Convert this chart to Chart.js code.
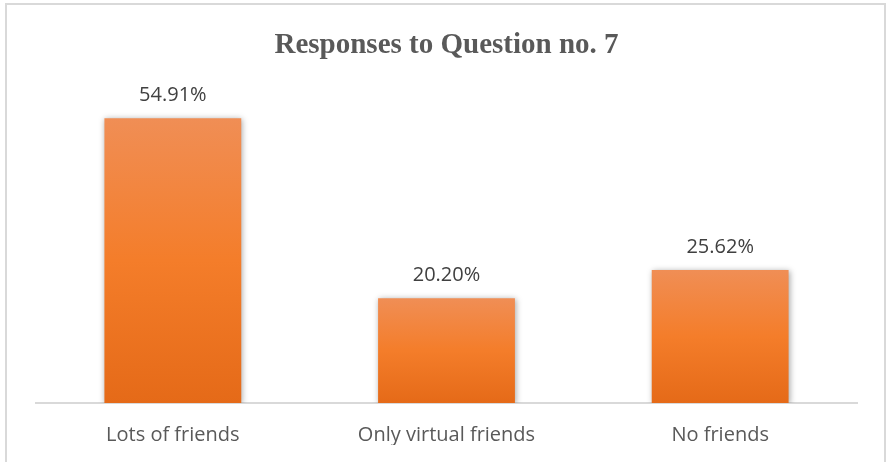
<!DOCTYPE html>
<html>
<head>
<meta charset="utf-8">
<title>Responses to Question no. 7</title>
<script src="https://cdn.jsdelivr.net/npm/chart.js@4.4.1/dist/chart.umd.min.js"></script>
<style>
  html, body { margin: 0; padding: 0; background: #fff; }
  canvas { display: block; }
</style>
</head>
<body>
<canvas id="bar-chart" width="886" height="462"></canvas>
<script>
const categories = ["Lots of friends", "Only virtual friends", "No friends"];
const percentages = [54.91, 20.20, 25.62];

// orange fill, lighter at the top of every bar, darker at the base
function barFill(ctx) {
  const chart = ctx.chart;
  const y = chart.scales.y;
  if (!chart.chartArea || !y) return "#f47e2b";
  const top = y.getPixelForValue(percentages[ctx.dataIndex]);
  const base = y.getPixelForValue(0);
  const g = chart.ctx.createLinearGradient(0, top, 0, base);
  g.addColorStop(0, "#f08e55");
  g.addColorStop(0.5, "#f47d2a");
  g.addColorStop(1, "#e56a18");
  return g;
}

// soft shadow under the bars
const barShadow = {
  id: "barShadow",
  beforeDatasetsDraw(chart) {
    const c = chart.ctx;
    c.save();
    c.shadowColor = "rgba(0,0,0,0.35)";
    c.shadowBlur = 6;
    c.shadowOffsetX = 1;
    c.shadowOffsetY = 1;
  },
  afterDatasetsDraw(chart) {
    chart.ctx.restore();
  }
};

// value text above each bar
const valueLabels = {
  id: "valueLabels",
  afterDatasetsDraw(chart) {
    const c = chart.ctx;
    const meta = chart.getDatasetMeta(0);
    c.save();
    c.font = "20px 'Open Sans'";
    c.fillStyle = "#404040";
    c.textAlign = "center";
    c.textBaseline = "middle";
    meta.data.forEach((bar, i) => {
      c.fillText(percentages[i].toFixed(2) + "%", bar.x, bar.y - 23);
    });
    c.restore();
  }
};

// thin frame round the chart
const frame = {
  id: "frame",
  beforeDraw(chart) {
    const c = chart.ctx;
    c.save();
    c.strokeStyle = "#d9d9d9";
    c.lineWidth = 2;
    c.beginPath();
    c.moveTo(6, chart.height);
    c.lineTo(6, 4);
    c.lineTo(885, 4);
    c.lineTo(885, chart.height);
    c.stroke();
    c.restore();
  }
};

new Chart(document.getElementById("bar-chart"), {
  type: "bar",
  data: {
    labels: categories,
    datasets: [{
      data: percentages,
      backgroundColor: barFill,
      borderWidth: 0,
      barPercentage: 1,
      categoryPercentage: 0.5
    }]
  },
  options: {
    responsive: false,
    animation: false,
    layout: { padding: { left: 36, right: 29, top: 0, bottom: 17 } },
    plugins: {
      legend: { display: false },
      tooltip: { enabled: false },
      title: {
        display: true,
        text: "Responses to Question no. 7",
        color: "#595959",
        font: { family: "'Liberation Serif', 'Times New Roman', serif", size: 29, weight: "bold" },
        padding: { top: 28, bottom: 29 }
      }
    },
    scales: {
      x: {
        grid: { display: false, drawTicks: false },
        border: { display: true, color: "#d9d9d9", width: 2 },
        ticks: {
          color: "#595959",
          font: { family: "'Open Sans'", size: 20 },
          padding: 20
        },
        afterFit(scale) {
          scale.height = 42;
        }
      },
      y: {
        display: false,
        min: 0,
        max: 60
      }
    }
  },
  plugins: [frame, barShadow, valueLabels]
});
</script>
</body>
</html>
